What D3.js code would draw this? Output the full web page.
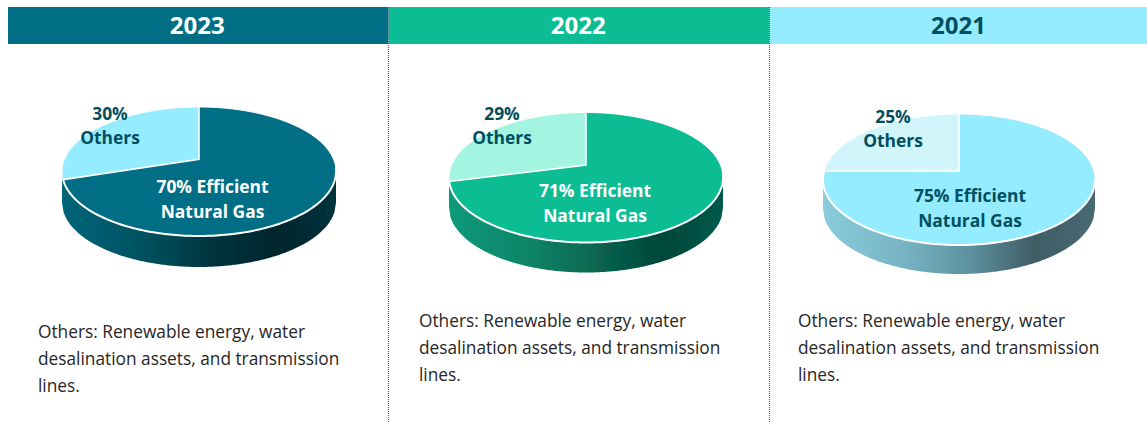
<!DOCTYPE html>
<html>
<head>
<meta charset="utf-8">
<script src="https://cdn.jsdelivr.net/npm/d3@7"></script>
<style>
html, body { margin: 0; padding: 0; background: #fff; }
svg { display: block; }
text { font-family: "Open Sans", "Noto Sans", sans-serif; }
</style>
</head>
<body>
<svg id="chart" width="1147" height="423"></svg>
<script>
// values
var years = ['2023', '2022', '2021'];
var gasShares = [70, 71, 75];
var otherShares = [30, 29, 25];
var gasLabels = ['Efficient', 'Natural Gas'];
var otherLabel = 'Others';
var noteLines = [
    'Others: Renewable energy, water',
    'desalination assets, and transmission',
    'lines.'
];

// one entry per panel, same order as years
var panels = [
    { x0: 8, x1: 388.5, cx: 199, cy: 171.5, rx: 137, ry: 64.5, depth: 31, b: -0.19,
      head: '#006f85', headText: '#fff', gas: '#006f85', other: '#96ecff', gasText: '#fff', otherText: '#004f5f',
      wall: ['#00657a', '#00515f', '#00353f', '#00252d', '#00323c'],
      gasX: 212.5, gasY: 188, otherX: 110, otherY: 114, noteX: 38, noteY: 333 },
    { x0: 389, x1: 769.5, cx: 586, cy: 177.5, rx: 137, ry: 65, depth: 30, b: -0.19,
      head: '#0cbd94', headText: '#fff', gas: '#0cbd94', other: '#a3f5e1', gasText: '#fff', otherText: '#004f5f',
      wall: ['#109a7b', '#0b8367', '#07644f', '#03463a', '#06594a'],
      gasX: 595, gasY: 192, otherX: 502, otherY: 114, noteX: 419, noteY: 322 },
    { x0: 770, x1: 1147, cx: 959, cy: 179.5, rx: 136, ry: 65.5, depth: 29, b: -0.13,
      head: '#96ecff', headText: '#004f5f', gas: '#96ecff', other: '#d2f5fc', gasText: '#004f5f', otherText: '#004f5f',
      wall: ['#8accdb', '#76b4c4', '#5c8f9c', '#3f5c65', '#486a73'],
      gasX: 970, gasY: 197, otherX: 893, otherY: 117, noteX: 798, noteY: 322 }
];

var svg = d3.select('#chart');
var defs = svg.append('defs');

defs.append('filter')
    .attr('id', 'soft')
    .attr('x', '-5%').attr('y', '-5%').attr('width', '110%').attr('height', '110%')
    .append('feGaussianBlur')
    .attr('stdDeviation', 0.5);

var pie = d3.pie().sort(null).value(function (d) { return d; });

panels.forEach(function (p, i) {
    // header band
    svg.append('rect')
        .attr('x', p.x0)
        .attr('y', 7)
        .attr('width', p.x1 - p.x0)
        .attr('height', 37)
        .attr('fill', p.head);
    svg.append('text')
        .attr('x', (p.x0 + p.x1) / 2 + (i === 2 ? 0 : -1))
        .attr('y', 34)
        .attr('text-anchor', 'middle')
        .attr('font-size', 24)
        .attr('font-weight', 700)
        .attr('fill', p.headText)
        .text(years[i]);

    var xScale = d3.scaleLinear().domain([-1, 1]).range([p.cx - p.rx, p.cx + p.rx]);
    var yScale = d3.scaleLinear().domain([-1, 1]).range([p.cy - p.ry, p.cy + p.ry]);

    // angle runs clockwise from the top of the disc, the view is tilted so the apex sits above the middle
    function project(r, angle) {
        var u = r * Math.sin(angle);
        var v = -r * Math.cos(angle);
        var w = 1 + p.b * v;
        return [xScale(u * Math.sqrt(1 - p.b * p.b) / w), yScale((v + p.b) / w)];
    }

    var line = d3.line();
    var step = Math.PI / 180;

    function rim(a0, a1) {
        return d3.range(a0, a1, step).concat([a1]).map(function (a) {
            return project(1, a);
        });
    }

    // side wall
    var gradId = 'wall' + i;
    var grad = defs.append('linearGradient')
        .attr('id', gradId)
        .attr('gradientUnits', 'userSpaceOnUse')
        .attr('x1', p.cx - p.rx)
        .attr('x2', p.cx + p.rx)
        .attr('y1', 0)
        .attr('y2', 0);
    [0, 0.3, 0.55, 0.78, 1].forEach(function (o, j) {
        grad.append('stop').attr('offset', o).attr('stop-color', p.wall[j]);
    });

    var front = d3.range(-1, 1.0001, 1 / 90).map(function (t) {
        var s = Math.sqrt(Math.max(0, 1 - t * t));
        return [xScale(t), yScale(s)];
    });
    var wallPts = front.concat(front.slice().reverse().map(function (q) {
        return [q[0], q[1] + p.depth];
    }));
    svg.append('path')
        .attr('d', line(wallPts) + 'Z')
        .attr('fill', 'url(#' + gradId + ')')
        .attr('filter', 'url(#soft)');

    // slices, gas first then others, clockwise from the top
    var arcs = pie([gasShares[i], otherShares[i]]);
    var gasArc = arcs[0];
    var otherArc = arcs[1];
    var apex = project(0, 0);

    svg.append('path')
        .attr('d', line([apex].concat(rim(gasArc.startAngle, gasArc.endAngle))) + 'Z')
        .attr('fill', p.gas);
    svg.append('path')
        .attr('d', line([apex].concat(rim(otherArc.startAngle, otherArc.endAngle))) + 'Z')
        .attr('fill', p.other);

    // white outlines: thin all round, heavier on the front edge
    svg.append('path')
        .attr('d', line(rim(0, Math.PI * 2)) + 'Z')
        .attr('fill', 'none')
        .attr('stroke', '#fff')
        .attr('stroke-width', 1);
    svg.append('path')
        .attr('d', line([project(1, otherArc.startAngle), apex, project(1, 0)]))
        .attr('fill', 'none')
        .attr('stroke', '#fff')
        .attr('stroke-width', 1.6);
    svg.append('path')
        .attr('d', line(rim(Math.PI * 0.55, otherArc.startAngle)))
        .attr('fill', 'none')
        .attr('stroke', '#fff')
        .attr('stroke-width', 2)
        .attr('stroke-linecap', 'round');

    // labels
    svg.append('text')
        .attr('x', p.gasX).attr('y', p.gasY + 5)
        .attr('text-anchor', 'middle')
        .attr('font-size', 17.4).attr('font-weight', 700)
        .attr('fill', p.gasText)
        .text(gasShares[i] + '% ' + gasLabels[0]);
    svg.append('text')
        .attr('x', p.gasX).attr('y', p.gasY + 30)
        .attr('text-anchor', 'middle')
        .attr('font-size', 17.4).attr('font-weight', 700)
        .attr('fill', p.gasText)
        .text(gasLabels[1]);
    svg.append('text')
        .attr('x', p.otherX).attr('y', p.otherY + 6)
        .attr('text-anchor', 'middle')
        .attr('font-size', 17.4).attr('font-weight', 700)
        .attr('fill', p.otherText)
        .text(otherShares[i] + '%');
    svg.append('text')
        .attr('x', p.otherX).attr('y', p.otherY + 30)
        .attr('text-anchor', 'middle')
        .attr('font-size', 17.4).attr('font-weight', 700)
        .attr('fill', p.otherText)
        .text(otherLabel);

    // note under the pie
    noteLines.forEach(function (t, j) {
        svg.append('text')
            .attr('x', p.noteX)
            .attr('y', p.noteY + 5 + j * 27)
            .attr('font-size', 17.3)
            .attr('fill', '#262626')
            .text(t);
    });
});

// dotted separators
[388.5, 769.5].forEach(function (x) {
    svg.append('line')
        .attr('x1', x).attr('x2', x)
        .attr('y1', 7).attr('y2', 423)
        .attr('stroke', '#1b7a94')
        .attr('stroke-width', 1.2)
        .attr('stroke-dasharray', '1 1');
});
</script>
</body>
</html>
